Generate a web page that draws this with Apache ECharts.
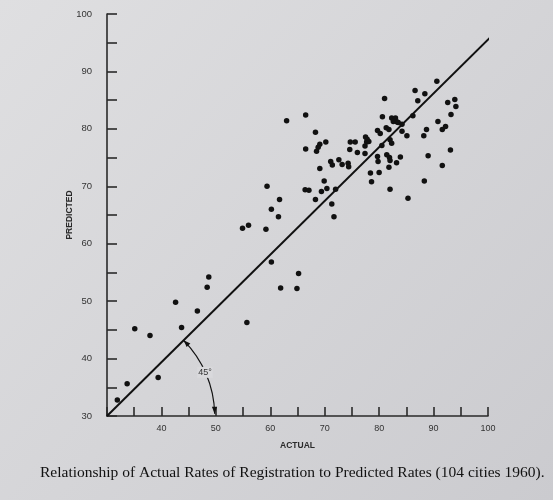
<!DOCTYPE html>
<html>
<head>
<meta charset="utf-8">
<script src="https://cdn.jsdelivr.net/npm/echarts@6/dist/echarts.min.js"></script>
<style>html,body{margin:0;padding:0;background:#d8d8db;}#c{width:553px;height:500px;}</style>
</head>
<body>
<div id="c"></div>
<script>
// Data: [actual, predicted]
var cities = [
  [31.9,32.8],[33.7,35.6],[35.1,45.2],[37.9,44.0],[39.4,36.7],[42.6,49.8],[43.7,45.4],[46.6,48.3],
  [48.4,52.4],[48.7,54.2],[54.9,62.7],[56.0,63.2],[55.7,46.3],[59.2,62.5],[59.4,70.0],[60.2,66.0],
  [61.5,64.7],[61.7,67.7],[60.2,56.8],[65.2,54.8],[61.9,52.3],[64.9,52.2],[63.0,81.4],[66.5,82.4],
  [68.3,79.4],[66.5,76.5],[69.1,77.3],[68.8,76.8],[68.5,76.1],[70.2,77.7],[69.1,73.1],[71.1,74.3],
  [71.4,73.7],[72.6,74.6],[73.2,73.8],[74.3,74.0],[74.4,73.4],[69.9,70.9],[70.4,69.6],[69.4,69.1],
  [66.4,69.4],[67.1,69.3],[72.0,69.5],[68.3,67.7],[71.3,66.9],[71.7,64.7],[74.7,77.7],[75.6,77.7],
  [74.6,76.4],[76.0,75.9],[77.5,78.6],[77.8,78.2],[77.7,77.7],[78.1,77.8],[77.4,77.0],[77.4,75.7],
  [79.7,79.7],[80.2,79.2],[80.5,77.1],[79.7,75.2],[79.8,74.3],[78.4,72.3],[80.0,72.4],[78.6,70.8],
  [81.0,85.3],[80.6,82.1],[82.3,81.9],[83.0,81.9],[82.6,81.3],[83.3,81.2],[83.5,81.1],[81.3,80.2],
  [81.8,79.9],[84.2,80.8],[84.2,79.6],[85.1,78.8],[82.0,78.1],[82.3,77.5],[81.4,75.5],[81.9,75.0],
  [82.0,74.5],[83.9,75.1],[83.2,74.1],[81.8,73.3],[82.0,69.5],[85.3,67.9],[86.6,86.7],[88.4,86.1],
  [87.1,84.9],[90.6,88.3],[86.2,82.3],[88.7,79.9],[88.2,78.8],[89.0,75.3],[88.3,70.9],[90.8,81.3],
  [91.6,79.9],[92.2,80.4],[92.6,84.6],[93.9,85.1],[94.1,83.9],[93.2,82.5],[93.1,76.3],[91.6,73.6]
];
var refLine = [[30,30],[100.5,96]];
var axisMin = 30, axisMax = 100, tickStep = 5, labelStep = 10;
// 45° annotation anchors (data units): arc start on line, arc end at x axis, label spot
var arcOrigin = [30,30];
var arcStart = [44.2,43.3];
var arcEnd = [49.6,30.4];
var arcLabelAt = [48.0,37.6];
var arcLabel = '45°';
var xName = 'ACTUAL', yName = 'PREDICTED';
var caption = 'Relationship of Actual Rates of Registration to Predicted Rates (104 cities 1960).';

var ink = '#111111';
var chart = echarts.init(document.getElementById('c'));

function arrowHead(tip, dir, len, half) {
  var bx = tip[0] - dir[0]*len, by = tip[1] - dir[1]*len;
  var px = -dir[1], py = dir[0];
  return [[tip[0],tip[1]],[bx+px*half,by+py*half],[bx-px*half,by-py*half]];
}

chart.setOption({
  backgroundColor: {
    type: 'linear', x: 0, y: 0, x2: 1, y2: 1,
    colorStops: [{offset:0,color:'#dfdfe1'},{offset:1,color:'#cbcbcf'}]
  },
  animation: false,
  title: {
    text: caption, left: 35, top: 460,
    textStyle: {fontFamily: 'Liberation Serif', fontSize: 15.5, fontWeight: 'normal', color: '#111'}
  },
  grid: {left: 107, right: 65, top: 14, bottom: 84},
  xAxis: {
    type: 'value', min: axisMin, max: axisMax, interval: tickStep,
    name: xName, nameLocation: 'middle', nameGap: 25,
    nameTextStyle: {fontFamily: 'Liberation Sans', fontSize: 8.5, fontWeight: 'bold', color: '#2a2a2a'},
    axisLine: {show: true, lineStyle: {color: '#2a2a2a', width: 1.6}},
    axisTick: {show: true, inside: true, length: 9, lineStyle: {color: '#2a2a2a', width: 1.6}},
    axisLabel: {
      margin: 8, fontFamily: 'Liberation Sans', fontSize: 9, color: '#333',
      formatter: function (v) { return (v % labelStep === 0 && v !== axisMin) ? String(v) : ''; }
    },
    splitLine: {show: false}
  },
  yAxis: {
    type: 'value', min: axisMin, max: axisMax, interval: tickStep,
    name: yName, nameLocation: 'middle', nameGap: 33, nameRotate: 90, nameMoveOverlap: false,
    nameTextStyle: {fontFamily: 'Liberation Sans', fontSize: 8.5, fontWeight: 'bold', color: '#2a2a2a'},
    axisLine: {show: true, lineStyle: {color: '#2a2a2a', width: 1.6}},
    axisTick: {show: true, inside: true, length: 10, lineStyle: {color: '#2a2a2a', width: 1.6}},
    axisLabel: {
      margin: 15, fontFamily: 'Liberation Sans', fontSize: 9.5, color: '#333',
      formatter: function (v) { return v % labelStep === 0 ? String(v) : ''; }
    },
    splitLine: {show: false}
  },
  series: [
    {
      type: 'line', data: refLine, symbol: 'none', clip: false,
      lineStyle: {color: ink, width: 2}, z: 3
    },
    {
      type: 'scatter', data: cities, symbolSize: 5.5,
      itemStyle: {color: ink, opacity: 1}, z: 4
    },
    {
      type: 'custom', data: [0], clip: false, z: 5,
      renderItem: function (params, api) {
        var o = api.coord(arcOrigin), s = api.coord(arcStart), e = api.coord(arcEnd), t = api.coord(arcLabelAt);
        var a1 = Math.atan2(s[1]-o[1], s[0]-o[0]);
        var a2 = Math.atan2(e[1]-o[1], e[0]-o[0]);
        var r = (Math.hypot(s[0]-o[0], s[1]-o[1]) + Math.hypot(e[0]-o[0], e[1]-o[1])) / 2;
        var p1 = [o[0]+r*Math.cos(a1), o[1]+r*Math.sin(a1)];
        var p2 = [o[0]+r*Math.cos(a2), o[1]+r*Math.sin(a2)];
        var d1 = [Math.sin(a1), -Math.cos(a1)];
        var d2 = [-Math.sin(a2), Math.cos(a2)];
        return {
          type: 'group',
          children: [
            {type: 'arc', shape: {cx: o[0], cy: o[1], r: r, startAngle: a1, endAngle: a2, clockwise: true},
             style: {stroke: ink, lineWidth: 1.2, fill: null}},
            {type: 'polygon', shape: {points: arrowHead(p1, d1, 7, 2.6)}, style: {fill: ink}},
            {type: 'polygon', shape: {points: arrowHead(p2, d2, 7, 2.6)}, style: {fill: ink}},
            {type: 'text', x: t[0], y: t[1],
             style: {text: arcLabel, fontFamily: 'Liberation Sans', fontSize: 9, fill: '#333',
                     align: 'center', verticalAlign: 'middle', backgroundColor: '#d9d9dc', padding: [1,1]}}
          ]
        };
      }
    }
  ]
});
</script>
</body>
</html>
